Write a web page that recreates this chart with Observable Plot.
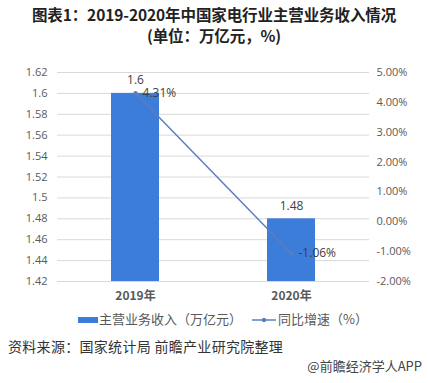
<!DOCTYPE html>
<html><head><meta charset="utf-8">
<script src="https://cdn.jsdelivr.net/npm/d3@7"></script>
<script src="https://cdn.jsdelivr.net/npm/@observablehq/plot@0.6"></script>
<style>
html,body{margin:0;padding:0;background:#fff;width:428px;height:383px;overflow:hidden;font-family:"Noto Sans CJK SC","Noto Sans",sans-serif;}
#title{font-weight:bold;font-size:15.5px;text-align:center;color:#222;padding-top:4px;height:54px;letter-spacing:-0.1px}
#title div{line-height:21px;height:21px}
#chart{height:247px}
#legend{position:relative;height:30px;font-size:13px;color:#595959}
#src{font-size:14px;color:#333;padding-left:8px;height:22px;line-height:22px;letter-spacing:0.3px}
#wm{font-size:13px;color:#444;text-align:right;padding-right:6px;line-height:18px}
</style></head>
<body>
<div id="title"><div>图表1：2019-2020年中国家电行业主营业务收入情况</div><div>(单位：万亿元，%)</div></div>
<div id="chart"></div>
<div id="legend"></div>
<div id="src">资料来源：国家统计局 前瞻产业研究院整理</div>
<div id="wm">@前瞻经济学人APP</div>
<script>
const years = ["2019年", "2020年"];
const revenue = [1.6, 1.48];
const growth = [4.31, -1.06];
const leftTicks = [1.42,1.44,1.46,1.48,1.5,1.52,1.54,1.56,1.58,1.6,1.62];
const rightTicks = [5,4,3,2,1,0,-1,-2];
const seriesNames = ["主营业务收入（万亿元）", "同比增速（%）"];

const yDom = [1.42, 1.62];
const pDom = [-2, 5];
const toY = p => yDom[0] + (p - pDom[0]) / (pDom[1] - pDom[0]) * (yDom[1] - yDom[0]);
const fromY = y => pDom[0] + (y - yDom[0]) / (yDom[1] - yDom[0]) * (pDom[1] - pDom[0]);
const fmtPct = v => { const r = Math.round(v * 100) / 100; return (Object.is(r, -0) ? 0 : r).toFixed(2) + "%"; };

const data = years.map((y, i) => ({year: y, rev: revenue[i], g: growth[i], gy: toY(growth[i])}));
const barColor = "#3b7dd8";
const lineColor = "#5a7fbf";

const chart = Plot.plot({
  width: 428, height: 247,
  marginTop: 14, marginBottom: 24, marginLeft: 57, marginRight: 59,
  style: {fontFamily: "'Open Sans','Noto Sans',sans-serif", fontSize: "11px", color: "#595959"},
  x: {domain: years, padding: 0, label: null},
  y: {domain: yDom, label: null},
  marks: [
    Plot.gridY(leftTicks, {stroke: "#d9d9d9", strokeOpacity: 1}),
    Plot.barY(data, {x: "year", y1: yDom[0], y2: "rev", fill: barColor, insetLeft: 54, insetRight: 54}),
    Plot.text(data, {x: "year", y: "rev", text: d => String(d.rev), dy: -13, fill: "#404040", fontSize: 12}),
    Plot.line(data, {x: "year", y: "gy", stroke: lineColor, strokeWidth: 1.5}),
    Plot.dot(data, {x: "year", y: "gy", r: 2.2, fill: lineColor}),
    Plot.text(data, {x: "year", y: "gy", text: d => d.g.toFixed(2) + "%", dx: 7, textAnchor: "start", fill: "#404040", fontSize: 12}),
    Plot.axisY({ticks: leftTicks, tickSize: 0, tickPadding: 10, tickFormat: d => String(+d.toFixed(2)), fill: "#595959", fontSize: 11}),
    Plot.axisY({anchor: "right", ticks: rightTicks.map(toY), tickSize: 0, tickPadding: 7, tickFormat: d => fmtPct(fromY(d)), fill: "#595959", fontSize: 11}),
    Plot.axisX({tickSize: 0, tickPadding: 10, fill: "#595959", fontWeight: "bold", fontSize: 12, fontFamily: "'Noto Sans CJK SC',sans-serif"})
  ]
});
document.getElementById("chart").appendChild(chart);

// legend
const lg = document.getElementById("legend");
lg.innerHTML = `
<div style="position:absolute;left:78px;top:12px;width:20px;height:6px;background:${barColor}"></div>
<div style="position:absolute;left:99px;top:5px;line-height:18px">${seriesNames[0]}</div>
<svg style="position:absolute;left:251px;top:8px" width="26" height="14"><line x1="1" y1="7" x2="25" y2="7" stroke="${lineColor}" stroke-width="1.5"/><circle cx="13" cy="7" r="2.2" fill="${lineColor}"/></svg>
<div style="position:absolute;left:278px;top:5px;line-height:18px">${seriesNames[1]}</div>`;
</script>
</body></html>
